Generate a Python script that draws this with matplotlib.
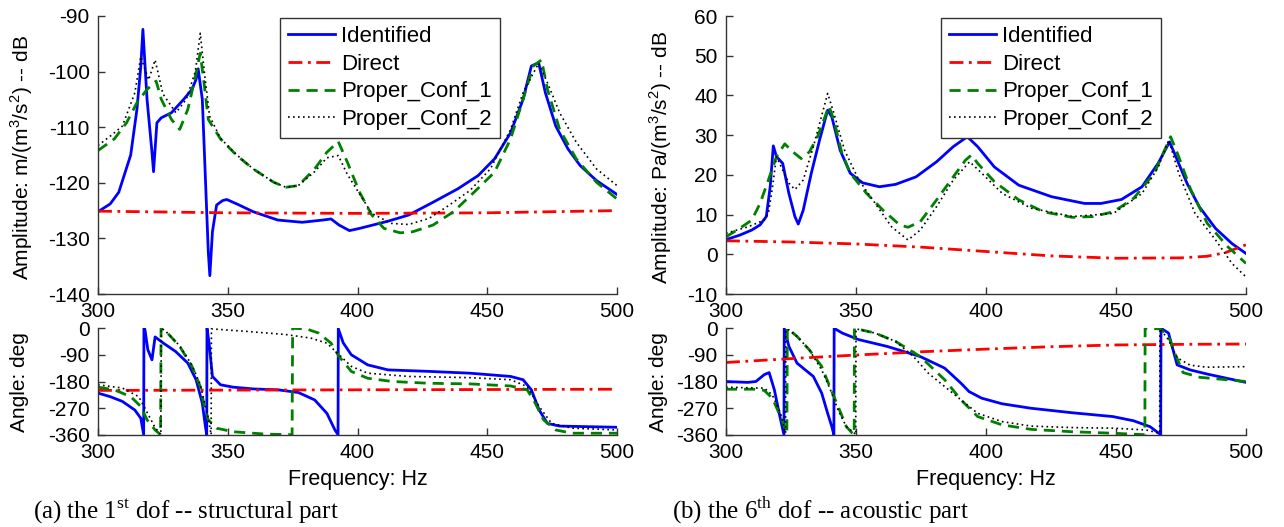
import matplotlib
matplotlib.use("Agg")
import matplotlib.pyplot as plt

plt.rcParams['font.family'] = ['Liberation Sans', 'DejaVu Sans']
plt.rcParams['mathtext.fontset'] = 'custom'
plt.rcParams['mathtext.rm'] = 'Liberation Sans'
plt.rcParams['mathtext.sf'] = 'Liberation Serif'
plt.rcParams['axes.unicode_minus'] = False

# ---- (a) structural part, amplitude (dB) ----
s_amp_id_f = [300, 304.7, 308, 312.6, 315, 316.5, 317.3, 318.9, 320.8, 321.4, 322.7, 324.4, 328.3, 333, 336.2,
              337.8, 338.6, 340.2, 341.7, 342.5, 343.1, 344.1, 345.7, 348, 349.6, 353.5, 359.8, 369.3, 378.7,
              386.6, 389.8, 392.9, 396.9, 400.8, 411.8, 419.7, 429.1, 438.6, 446.5, 452.8, 459, 463.8, 467,
              469.8, 472.4, 476.4, 481.1, 485.8, 492.1, 500]
s_amp_id = [-125.2, -123.8, -121.7, -115, -106.8, -99, -92.4, -105, -114.5, -118, -109.2, -108.3, -107.4, -105,
            -103.2, -101.4, -99.5, -105, -122.9, -132.4, -136.7, -128.8, -124, -123.2, -123, -123.8, -125.2,
            -126.7, -127.1, -126.7, -126.5, -127.6, -128.6, -128.2, -126.9, -125.8, -123.5, -121.1, -118.7,
            -115.7, -111, -105, -99, -98.4, -103.8, -109.8, -113.9, -116.9, -119.6, -122.1]
s_amp_dir_f = [300, 350, 400, 450, 500]
s_amp_dir = [-125.1, -125.4, -125.5, -125.4, -125.0]
s_amp_c1_f = [300, 306.3, 311, 315, 318.9, 322.4, 324.4, 328.3, 331.5, 334.6, 337, 339.4, 341, 342.5, 347.2,
              353.5, 359.8, 367.7, 372.4, 377.2, 383.5, 388.2, 392.6, 396.1, 400.8, 405.5, 410.2, 416.5, 421.3,
              429.1, 437, 444.9, 452.8, 459, 463.8, 467.7, 470.9, 473.2, 477.9, 484.3, 492.1, 500]
s_amp_c1 = [-114.2, -112.1, -109.2, -105.6, -103.2, -101.7, -105, -108.6, -110.4, -106.8, -102, -96.7, -102.6,
            -108.6, -112.1, -115.1, -117.5, -119.9, -120.8, -120.5, -117.5, -114.5, -112.6, -116.3, -121.7,
            -125.8, -128.2, -129, -128.8, -127.6, -125.2, -121.7, -118.1, -112.1, -105, -99, -97.9, -103.2,
            -110.4, -115.7, -119.9, -122.9]
s_amp_c2_f = [300, 305, 309.4, 314.2, 316.5, 319.5, 322, 325, 330, 334, 337.5, 339.4, 341.2, 343, 347.2, 353.5,
              359.8, 367.7, 372.4, 377.2, 383.5, 388.2, 392.6, 396.1, 400.8, 405.5, 413, 419.7, 427.6, 435.4,
              443.3, 451.2, 459, 463.8, 469.8, 473.2, 477.9, 484.3, 492.1, 500]
s_amp_c2 = [-113.3, -111.5, -109.8, -103.8, -97.3, -101.5, -97.9, -104, -107.4, -105, -100, -93.1, -101, -108,
            -112, -115, -117.5, -119.9, -120.8, -120.5, -118, -115.5, -115.1, -118.5, -122, -125.5, -127.3,
            -127.5, -126.4, -124, -121.4, -117.5, -110.4, -103.8, -98.5, -102, -107.4, -112.7, -117.5, -120.5]

# ---- (a) structural part, angle (deg) ----
s_ang_id_f = [300, 304.7, 309.4, 314.2, 316.5, 317.6, 317.7, 318.1, 319.2, 320.8, 322, 325.2, 329.9, 334.6, 337.8,
              340.2, 341.4, 341.9, 342.0, 342.8, 344.1, 347.2, 352, 359.8, 369.3, 377.2, 383.5, 388.2, 391.3,
              392.5, 392.6, 394.5, 397.6, 403.9, 411.8, 427.6, 443.3, 459, 463.8, 467, 470, 473.2, 477.9, 500]
s_ang_id = [-219, -231, -247, -276, -304, -359, -1, -6, -73, -107, -30, -51, -79, -118, -174, -253, -332, -359,
            -1, -50, -163, -191, -199, -205, -208, -217, -242, -287, -343, -359, -2, -50, -90, -124, -141, -146,
            -152, -163, -174, -208, -276, -321, -330, -334]
s_ang_dir_f = [300, 400, 500]
s_ang_dir = [-210, -208, -206]
s_ang_c1_f = [300, 306.3, 312.6, 316.5, 318.9, 322, 324.1, 324.3, 325.2, 326.8, 331.5, 336.2, 339.4, 341, 342.5,
              345.7, 352, 364.6, 374.8, 375.0, 380.3, 385, 389.8, 392.9, 397.6, 403.9, 413.4, 427.6, 443.3, 459,
              465.4, 468.5, 471.7, 476.4, 482.7, 500]
s_ang_c1 = [-199, -208, -231, -264, -309, -343, -359, -1, -6, -17, -62, -129, -197, -264, -309, -337, -349, -357,
            -359, -1, -3, -17, -51, -96, -146, -169, -180, -186, -188, -195, -208, -253, -309, -343, -354, -354]
s_ang_c2_f = [300, 309.4, 315.7, 319, 322, 324.2, 324.4, 326, 331.5, 336.2, 339.4, 341, 342.4, 343.6, 343.7,
              356.7, 372.4, 382, 388.2, 392.9, 397.6, 403.9, 419.7, 443.3, 459, 465.4, 470, 474.8, 482.7, 500]
s_ang_c2 = [-191, -202, -231, -285, -335, -359, -1, -10, -60, -125, -190, -250, -300, -359, -3, -11, -22, -34,
            -51, -90, -129, -152, -163, -167, -174, -197, -264, -321, -337, -343]

# ---- (b) acoustic part, amplitude (dB) ----
a_amp_id_f = [300, 305.2, 309.9, 313.1, 315.5, 317, 318.2, 319.4, 321.8, 324.2, 326.5, 327.8, 329.7, 332.8, 336,
              339.1, 340.7, 343.9, 347.8, 352.5, 359, 365.2, 373.1, 381, 387.4, 392.8, 396.8, 403.2, 412.6,
              425.2, 437.9, 444.2, 452.1, 460, 466.2, 470.6, 472.5, 477.3, 482, 488.3, 494.6, 500]
a_amp_id = [3.7, 4.8, 6.1, 7.4, 9.5, 17, 27.3, 24.6, 22.9, 15.3, 9.5, 7.6, 11.1, 20.4, 28.8, 36.3, 34.6, 26.2,
            20.4, 18, 17, 17.6, 19.5, 23.3, 27.1, 29.6, 27.1, 22, 17.4, 14.5, 12.8, 12.8, 13.8, 17, 22.9, 28.3,
            25.4, 17.9, 12, 6.5, 2.7, 0.2]
a_amp_dir_f = [300, 325, 350, 375, 400, 425, 450, 475, 485, 492, 500]
a_amp_dir = [3.4, 3.1, 2.6, 1.8, 0.7, -0.4, -1.0, -0.9, -0.5, 0.4, 2.4]
a_amp_c1_f = [300, 305.2, 309.9, 313.1, 316.3, 319.4, 322.6, 325.7, 328.9, 332.1, 335.2, 339.6, 341.5, 344.6,
              347.8, 354.1, 360.4, 366.8, 370, 374.7, 381, 387.4, 392.1, 394.4, 396.8, 403.2, 412.6, 422.1,
              433.2, 441.1, 449, 456.8, 464.7, 471, 474.1, 478.8, 485.1, 493, 500]
a_amp_c1 = [4.4, 6.5, 8.6, 12.8, 18.7, 24.6, 27.8, 25.8, 24.1, 25.8, 29.6, 37.3, 33.8, 25.4, 20.4, 15.3, 11.1,
            7.4, 6.8, 8.2, 13.7, 19.5, 23.7, 25, 22.9, 18.3, 13.7, 10.7, 9.3, 9.5, 10.7, 14.1, 20.4, 29.6, 24.6,
            16.2, 7.8, 1.9, -2.3]
a_amp_c2_f = [300, 308.4, 314.7, 316.3, 317.9, 319.4, 321.8, 324.2, 326.5, 329.7, 333.6, 339.1, 341.5, 345.6,
              351.1, 357.4, 363.7, 370, 374.7, 381, 387.4, 393.7, 398.4, 406.3, 417.4, 433.2, 449, 460, 466.3,
              470.3, 474.1, 480.4, 488.3, 494.6, 500]
a_amp_c2 = [5.3, 6.9, 8.6, 10.3, 17, 24.6, 21.2, 17.9, 16.3, 18.7, 27.1, 40.5, 35.5, 26.2, 18.7, 12.8, 6.9, 3.6,
            6.1, 12, 18.7, 23.3, 20.4, 15.3, 11.6, 9.5, 10.3, 15.3, 22, 28.8, 20.4, 10.3, 3.6, -2.3, -5.7]

# ---- (b) acoustic part, angle (deg) ----
a_ang_id_f = [300, 308.4, 311.5, 314.7, 316.6, 318.6, 321, 322.3, 322.4, 324.2, 327.3, 330.5, 333.6, 336.8, 339.1,
              340.7, 341.5, 341.6, 344.7, 351, 362, 374.7, 384.1, 390.4, 393.5, 398.3, 406.2, 417.3, 433, 448.8,
              456.7, 463.1, 467.2, 467.3, 470.2, 473.5, 478.5, 485.1, 493, 500]
a_ang_id = [-180, -183, -180, -157, -150, -208, -309, -359, -1, -62, -118, -141, -163, -219, -287, -332, -359, -1,
            -17, -39, -62, -96, -135, -186, -214, -236, -255, -270, -285, -298, -312, -332, -359, -1, -17, -124,
            -141, -155, -170, -183]
a_ang_dir_f = [300, 325, 350, 375, 400, 425, 450, 475, 500]
a_ang_dir = [-116, -103, -91, -80, -71, -63, -57, -55, -54]
a_ang_c1_f = [300, 311.5, 314.7, 317.8, 321, 323.4, 323.6, 327.3, 332, 336.8, 339.9, 343.1, 346.3, 348.6, 349.3,
              349.4, 357.3, 365.2, 374.7, 384.1, 390.4, 396.8, 406.2, 417.3, 433, 448.8, 461.1, 461.2, 466.9,
              470.2, 472.6, 475.8, 482.3, 490, 500]
a_ang_c1 = [-206, -206, -210, -236, -298, -354, -1, -28, -73, -129, -197, -264, -332, -354, -359, -1, -17, -45,
            -96, -174, -242, -298, -326, -341, -349, -354, -359, -1, -3, -28, -84, -150, -166, -172, -180]
a_ang_c2_f = [300, 311.5, 314.7, 317.8, 321, 322.9, 323.0, 324.2, 327.3, 332, 336.8, 339.9, 343.1, 346.3, 349.4,
              349.9, 350, 357.3, 365.2, 372.1, 377.8, 384.1, 390.4, 396.8, 406.2, 417.3, 433, 448.8, 461.5,
              466.8, 466.9, 470.2, 473.5, 478.5, 485, 500]
a_ang_c2 = [-199, -202, -202, -225, -287, -354, -6, -6, -28, -73, -141, -202, -276, -332, -354, -359, -3, -17,
            -45, -96, -152, -197, -242, -287, -315, -330, -335, -337, -343, -354, -2, -40, -100, -125, -132, -130]

names = ['Identified', 'Direct', 'Proper_Conf_1', 'Proper_Conf_2']
x_ticks = [300, 350, 400, 450, 500]
amp_ticks_s = [-140, -130, -120, -110, -100, -90]
amp_ticks_a = [-10, 0, 10, 20, 30, 40, 50, 60]
ang_ticks = [-360, -270, -180, -90, 0]

styles = [dict(color='#0000ff', lw=2.0, ls='-'),
          dict(color='#ff0000', lw=2.0, ls=(0, (5, 2, 1, 2))),
          dict(color='#008000', lw=2.0, ls=(0, (4, 2.5))),
          dict(color='black', lw=1.2, ls=(0, (1, 2)))]

W, H = 1284, 527
fig = plt.figure(figsize=(W / 100, H / 100), dpi=100)


def px_box(x0, y0, x1, y1):
    return [x0 / W, 1 - y1 / H, (x1 - x0) / W, (y1 - y0) / H]


def style_ax(ax, yticks, ylim):
    ax.set_xlim(300, 500)
    ax.set_ylim(*ylim)
    ax.set_xticks(x_ticks)
    ax.set_yticks(yticks)
    for s in ['top', 'right']:
        ax.spines[s].set_visible(False)
    for s in ['left', 'bottom']:
        ax.spines[s].set_color('#333333')
        ax.spines[s].set_linewidth(1.0)
    ax.tick_params(direction='in', length=5, width=1, color='#333333', labelsize=15, pad=6)


panels = [
    (98, 617, 'Amplitude: m/(m$^3$/s$^2$) -- dB', 22, 20,
     [(s_amp_id_f, s_amp_id), (s_amp_dir_f, s_amp_dir), (s_amp_c1_f, s_amp_c1), (s_amp_c2_f, s_amp_c2)],
     [(s_ang_id_f, s_ang_id), (s_ang_dir_f, s_ang_dir), (s_ang_c1_f, s_ang_c1), (s_ang_c2_f, s_ang_c2)],
     amp_ticks_s, (-140, -90), 278, 33, r'(a) the 1$^{\mathsf{st}}$ dof -- structural part'),
    (726, 1246, 'Amplitude: Pa/(m$^3$/s$^2$) -- dB', 661, 659,
     [(a_amp_id_f, a_amp_id), (a_amp_dir_f, a_amp_dir), (a_amp_c1_f, a_amp_c1), (a_amp_c2_f, a_amp_c2)],
     [(a_ang_id_f, a_ang_id), (a_ang_dir_f, a_ang_dir), (a_ang_c1_f, a_ang_c1), (a_ang_c2_f, a_ang_c2)],
     amp_ticks_a, (-10, 60), 939, 672, r'(b) the 6$^{\mathsf{th}}$ dof -- acoustic part'),
]

for (x0, x1, amp_label, lab_x, ang_lab_x, amp_series, ang_series, amp_ticks, amp_lim,
     leg_x, cap_x, caption) in panels:
    ax1 = fig.add_axes(px_box(x0, 16, x1, 294))
    for (f, v), st, nm in zip(amp_series, styles, names):
        ax1.plot(f, v, label=nm, **st)
    style_ax(ax1, amp_ticks, amp_lim)
    leg = ax1.legend(loc='upper left', bbox_to_anchor=((leg_x - x0) / (x1 - x0), 1.0),
                     fontsize=16, frameon=True, fancybox=False, framealpha=1,
                     edgecolor='#333333', handlelength=2.1, handletextpad=0.3,
                     labelspacing=0.3, borderpad=0.35, borderaxespad=0.1)
    leg.get_frame().set_linewidth(1.0)
    fig.text(lab_x / W, 1 - 157 / H, amp_label, rotation=90, ha='center', va='center', fontsize=15)

    ax2 = fig.add_axes(px_box(x0, 328, x1, 435))
    for (f, v), st in zip(ang_series, styles):
        ax2.plot(f, v, **st)
    style_ax(ax2, ang_ticks, (-360, 0))
    fig.text(ang_lab_x / W, 1 - 382 / H, 'Angle: deg', rotation=90, ha='center', va='center', fontsize=15)
    fig.text((x0 + x1) / 2 / W, 1 - 479 / H, 'Frequency: Hz', ha='center', va='center', fontsize=15.5)
    fig.text(cap_x / W, 1 - 511 / H, caption, ha='left', va='center', fontsize=18,
             family=['Liberation Serif', 'DejaVu Serif'])

fig.savefig('out.png', dpi=100)
